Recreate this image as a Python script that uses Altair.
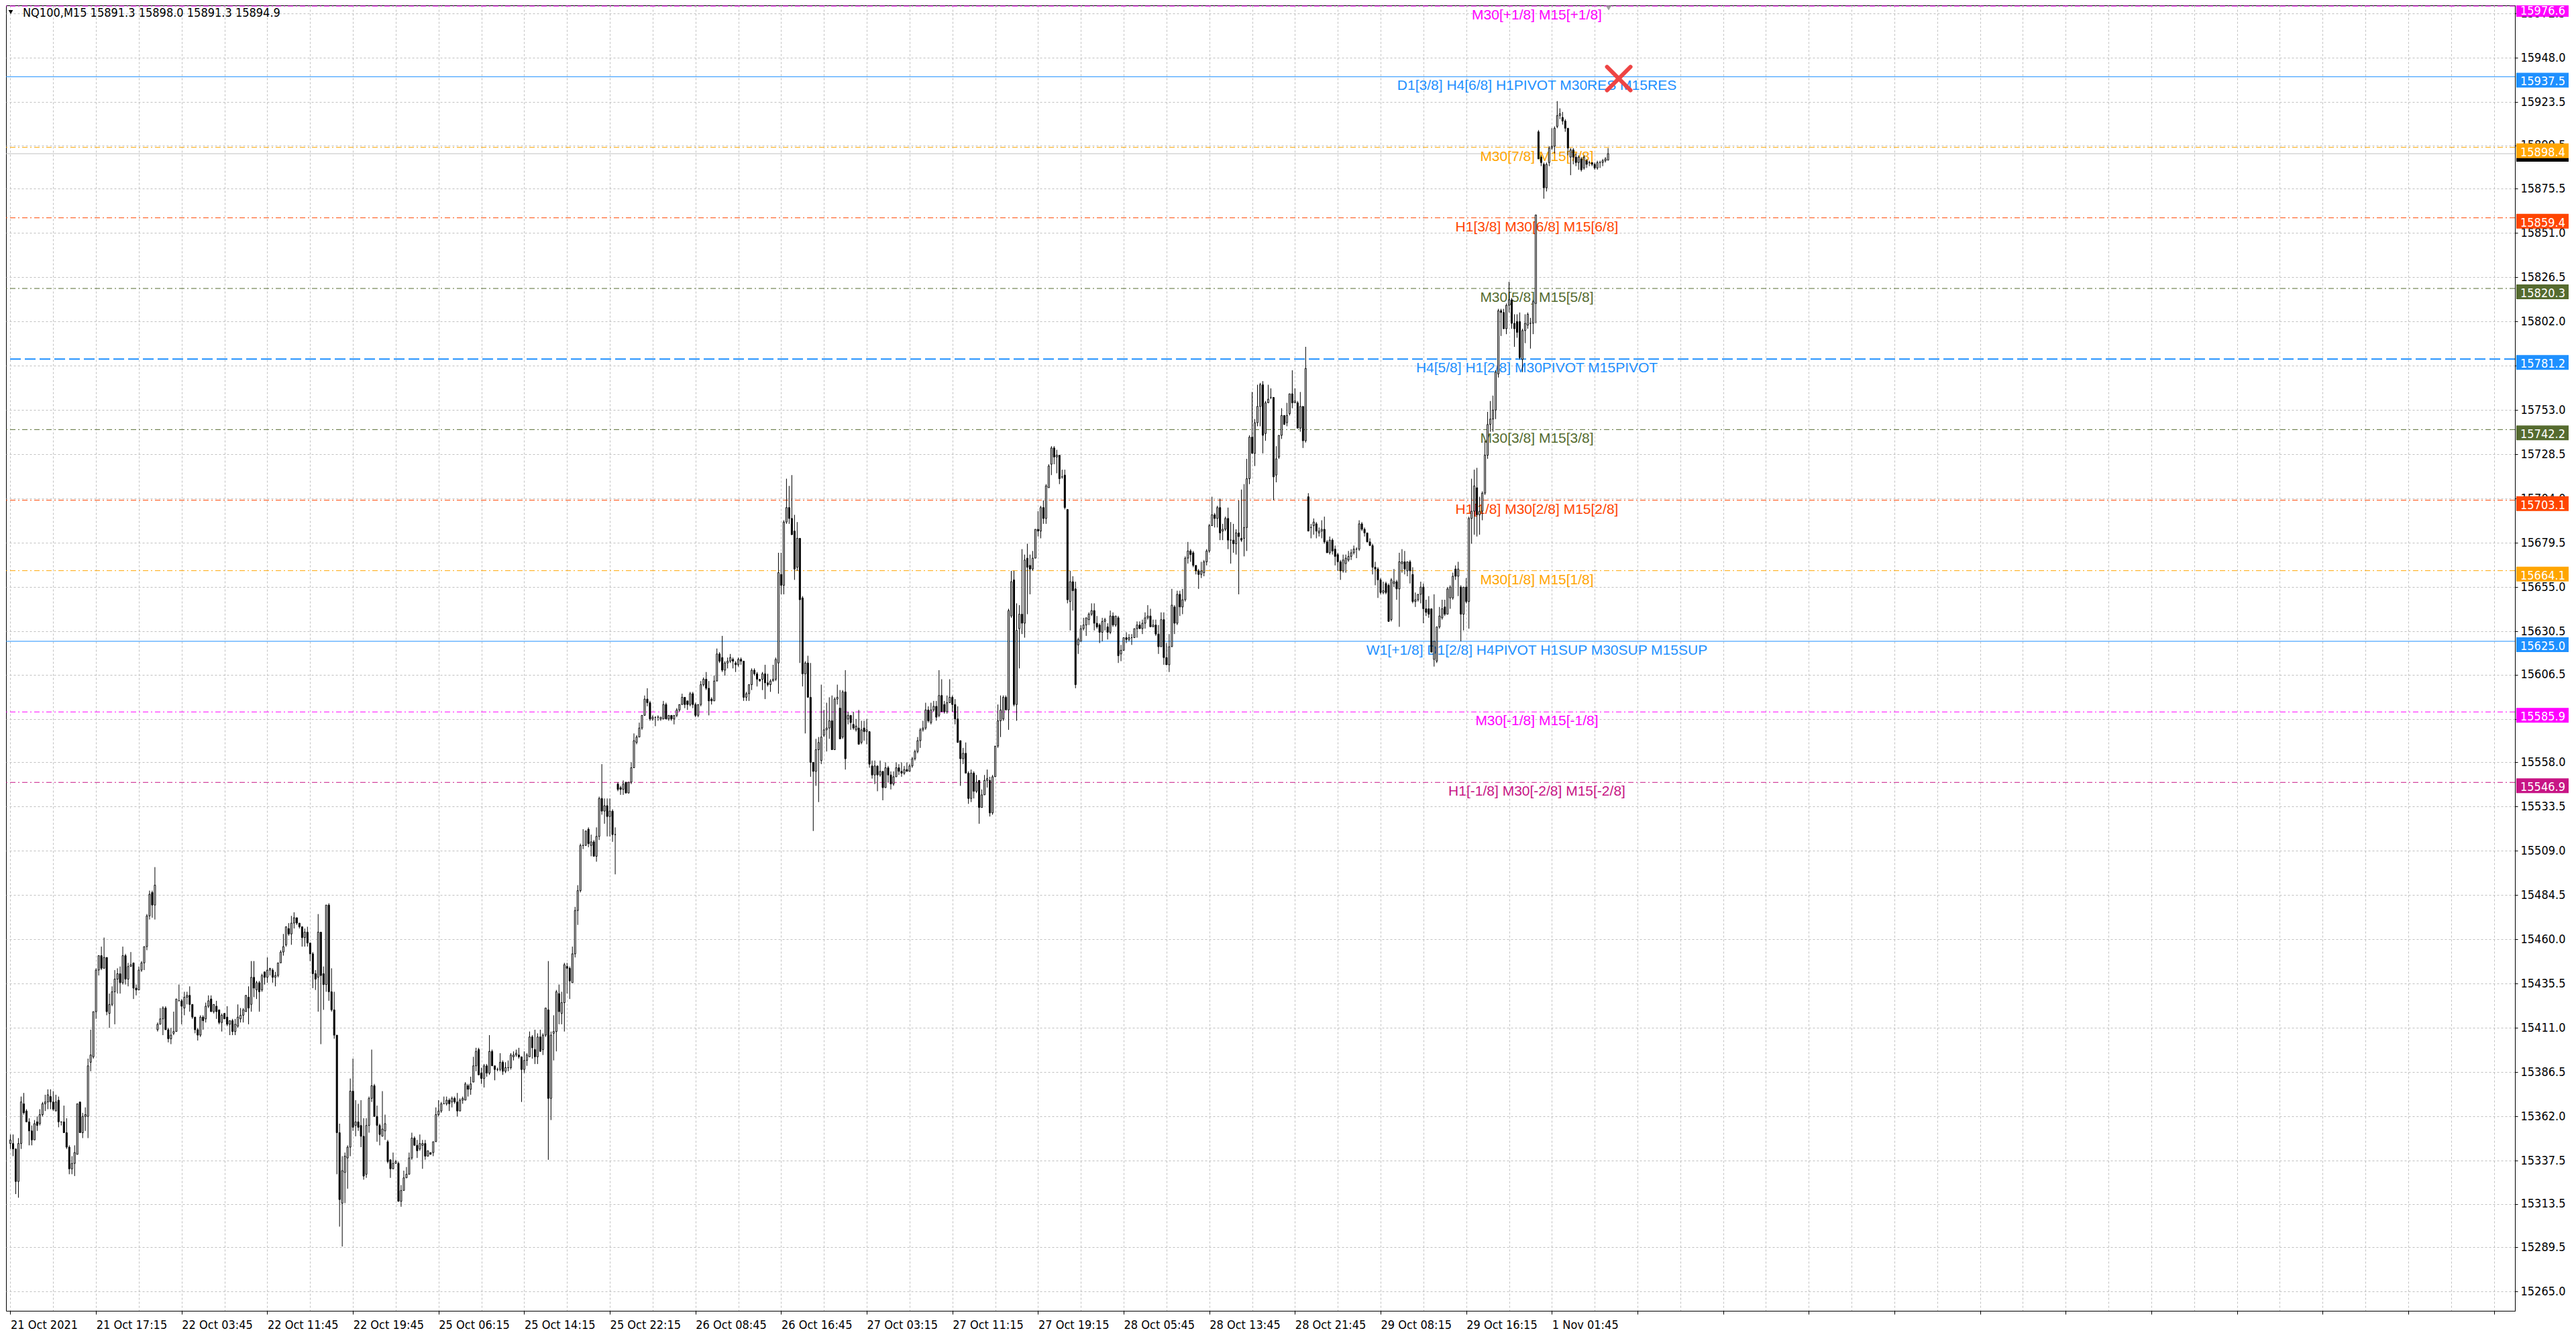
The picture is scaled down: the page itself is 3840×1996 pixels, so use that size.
import altair as alt
import pandas as pd

# ---- NQ100 M15 bars, oldest first ----
opens = [
    15347, 15347, 15344, 15326, 15347, 15369, 15365, 15359, 15354, 15349,
    15359, 15358, 15363, 15369, 15370, 15373, 15370, 15365, 15371, 15359,
    15359, 15353, 15345, 15333, 15336, 15341, 15370, 15353, 15362, 15362,
    15392, 15395, 15420, 15443, 15451, 15444, 15450, 15419, 15424, 15431,
    15438, 15441, 15436, 15451, 15438, 15445, 15447, 15433, 15432, 15443,
    15447, 15456, 15473, 15486, 15479, 15410, 15413, 15416, 15422, 15410,
    15405, 15408, 15409, 15426, 15426, 15422, 15428, 15429, 15424, 15417,
    15410, 15407, 15417, 15416, 15423, 15427, 15420, 15423, 15421, 15414,
    15419, 15417, 15413, 15415, 15409, 15412, 15416, 15418, 15420, 15428,
    15424, 15439, 15432, 15436, 15432, 15442, 15439, 15443, 15443, 15439,
    15440, 15447, 15453, 15457, 15466, 15463, 15469, 15472, 15469, 15467,
    15461, 15464, 15458, 15452, 15441, 15439, 15464, 15441, 15435, 15479,
    15431, 15421, 15407, 15353, 15314, 15331, 15339, 15345, 15376, 15357,
    15359, 15357, 15351, 15330, 15357, 15372, 15379, 15362, 15357, 15351,
    15354, 15348, 15338, 15333, 15336, 15336, 15315, 15321, 15328, 15330,
    15339, 15350, 15346, 15344, 15346, 15347, 15340, 15342, 15342, 15348,
    15363, 15365, 15369, 15369, 15371, 15370, 15372, 15370, 15365, 15371,
    15371, 15379, 15377, 15381, 15390, 15399, 15386, 15383, 15390, 15386,
    15398, 15390, 15388, 15388, 15392, 15387, 15389, 15389, 15395, 15396,
    15396, 15395, 15388, 15393, 15395, 15406, 15399, 15395, 15406, 15399,
    15407, 15421, 15372, 15408, 15409, 15430, 15419, 15425, 15445, 15444,
    15436, 15452, 15476, 15487, 15512, 15512, 15521, 15512, 15514, 15506,
    15517, 15538, 15531, 15534, 15528, 15531, 15518, 15546, 15544, 15543,
    15547, 15541, 15547, 15555, 15569, 15572, 15577, 15584, 15593, 15591,
    15582, 15583, 15583, 15582, 15582, 15590, 15582, 15584, 15582, 15584,
    15587, 15590, 15594, 15592, 15590, 15596, 15590, 15584, 15590, 15601,
    15604, 15599, 15593, 15592, 15603, 15618, 15616, 15609, 15613, 15614,
    15615, 15613, 15612, 15615, 15614, 15594, 15596, 15601, 15609, 15607,
    15604, 15604, 15607, 15602, 15601, 15603, 15604, 15613, 15662, 15656,
    15691, 15699, 15693, 15686, 15666, 15682, 15649, 15607, 15613, 15594,
    15558, 15553, 15565, 15559, 15573, 15576, 15577, 15581, 15565, 15593,
    15588, 15572, 15597, 15582, 15584, 15579, 15576, 15577, 15569, 15577,
    15575, 15575, 15556, 15551, 15556, 15551, 15553, 15544, 15555, 15551,
    15546, 15550, 15555, 15553, 15552, 15554, 15553, 15556, 15560, 15564,
    15570, 15576, 15577, 15587, 15580, 15587, 15589, 15584, 15595, 15590,
    15586, 15591, 15594, 15590, 15582, 15570, 15560, 15563, 15552, 15538,
    15552, 15542, 15548, 15533, 15540, 15548, 15548, 15530, 15550, 15567,
    15581, 15582, 15594, 15587, 15639, 15659, 15590, 15632, 15640, 15635,
    15671, 15667, 15665, 15671, 15687, 15686, 15699, 15693, 15710, 15723,
    15732, 15727, 15728, 15716, 15717, 15698, 15647, 15658, 15654, 15623,
    15625, 15632, 15634, 15637, 15640, 15642, 15635, 15634, 15630, 15636,
    15633, 15630, 15639, 15634, 15638, 15618, 15620, 15627, 15626, 15627,
    15627, 15632, 15634, 15632, 15635, 15638, 15639, 15633, 15634, 15629,
    15622, 15637, 15616, 15612, 15622, 15644, 15635, 15651, 15644, 15648,
    15671, 15675, 15674, 15667, 15664, 15662, 15663, 15669, 15675, 15689,
    15695, 15693, 15699, 15686, 15687, 15693, 15681, 15681, 15679, 15685,
    15682, 15682, 15688, 15715, 15738, 15729, 15746, 15755, 15767, 15740,
    15757, 15760, 15760, 15717, 15727, 15739, 15750, 15746, 15751, 15762,
    15757, 15757, 15743, 15755, 15736, 15705, 15688, 15689, 15690, 15685,
    15686, 15687, 15680, 15674, 15681, 15676, 15673, 15669, 15664, 15668,
    15670, 15672, 15674, 15676, 15676, 15690, 15687, 15685, 15680, 15678,
    15666, 15665, 15659, 15652, 15657, 15656, 15637, 15657, 15658, 15654,
    15668, 15669, 15664, 15669, 15662, 15647, 15648, 15651, 15655, 15643,
    15643, 15643, 15615, 15614, 15633, 15638, 15644, 15640, 15649, 15649,
    15665, 15661, 15655, 15640, 15655, 15647, 15693, 15697, 15710, 15695,
    15697, 15707, 15728, 15745, 15748, 15753, 15773, 15808, 15807, 15798,
    15811, 15814, 15801, 15802, 15802, 15781, 15797, 15800, 15801, 15801,
    15812, 15907, 15893, 15889, 15876, 15890, 15898, 15899, 15910, 15916,
    15915, 15913, 15909, 15893, 15897, 15893, 15890, 15892, 15887, 15891,
    15890, 15890, 15889, 15887, 15890, 15890, 15891, 15891.3,
]

highs = [
    15352, 15352, 15344, 15350, 15373, 15375, 15366, 15361, 15357, 15360,
    15362, 15366, 15370, 15374, 15377, 15377, 15376, 15374, 15373, 15359,
    15368, 15361, 15346, 15340, 15346, 15369, 15370, 15364, 15367, 15394,
    15410, 15420, 15444, 15451, 15456, 15461, 15450, 15430, 15434, 15443,
    15444, 15445, 15456, 15452, 15447, 15453, 15447, 15435, 15445, 15448,
    15456, 15474, 15487, 15487, 15500, 15414, 15422, 15423, 15423, 15411,
    15411, 15420, 15427, 15435, 15427, 15431, 15431, 15434, 15424, 15417,
    15411, 15418, 15418, 15425, 15429, 15429, 15424, 15426, 15421, 15419,
    15419, 15423, 15415, 15416, 15416, 15424, 15422, 15422, 15429, 15434,
    15448, 15448, 15437, 15437, 15441, 15442, 15450, 15444, 15444, 15442,
    15447, 15454, 15463, 15467, 15469, 15473, 15475, 15472, 15469, 15467,
    15466, 15467, 15458, 15453, 15443, 15474, 15464, 15445, 15479, 15480,
    15444, 15431, 15407, 15358, 15340, 15342, 15346, 15383, 15394, 15371,
    15369, 15371, 15361, 15361, 15373, 15399, 15380, 15368, 15358, 15376,
    15363, 15349, 15338, 15342, 15338, 15337, 15324, 15332, 15334, 15342,
    15353, 15351, 15349, 15352, 15349, 15349, 15343, 15342, 15348, 15367,
    15371, 15370, 15373, 15373, 15372, 15373, 15373, 15375, 15372, 15373,
    15381, 15380, 15384, 15395, 15400, 15400, 15389, 15391, 15391, 15407,
    15399, 15390, 15389, 15397, 15393, 15392, 15393, 15397, 15398, 15399,
    15400, 15395, 15398, 15397, 15409, 15407, 15410, 15408, 15410, 15408,
    15422, 15448, 15409, 15418, 15432, 15435, 15431, 15447, 15447, 15445,
    15456, 15478, 15490, 15513, 15521, 15520, 15522, 15518, 15515, 15522,
    15539, 15557, 15538, 15538, 15538, 15532, 15522, 15547, 15545, 15548,
    15547, 15547, 15558, 15574, 15573, 15580, 15584, 15595, 15599, 15592,
    15584, 15583, 15584, 15583, 15592, 15591, 15584, 15584, 15584, 15588,
    15590, 15596, 15594, 15592, 15597, 15597, 15591, 15590, 15603, 15605,
    15608, 15603, 15594, 15606, 15621, 15619, 15628, 15614, 15616, 15618,
    15616, 15614, 15616, 15616, 15614, 15597, 15601, 15610, 15610, 15608,
    15604, 15608, 15612, 15607, 15604, 15612, 15616, 15674, 15674, 15692,
    15715, 15711, 15717, 15695, 15691, 15682, 15650, 15614, 15617, 15613,
    15558, 15571, 15572, 15601, 15587, 15591, 15594, 15595, 15594, 15601,
    15598, 15598, 15609, 15586, 15584, 15586, 15582, 15587, 15581, 15581,
    15582, 15575, 15559, 15559, 15556, 15559, 15553, 15558, 15556, 15553,
    15553, 15558, 15557, 15558, 15556, 15558, 15557, 15561, 15565, 15572,
    15577, 15581, 15591, 15589, 15591, 15592, 15592, 15609, 15604, 15592,
    15595, 15604, 15595, 15593, 15589, 15570, 15566, 15569, 15553, 15554,
    15553, 15551, 15548, 15543, 15551, 15554, 15550, 15551, 15567, 15590,
    15595, 15595, 15595, 15643, 15664, 15664, 15646, 15645, 15676, 15673,
    15679, 15673, 15675, 15687, 15697, 15700, 15703, 15712, 15723, 15733,
    15733, 15731, 15728, 15720, 15720, 15698, 15664, 15661, 15658, 15627,
    15634, 15638, 15638, 15641, 15646, 15646, 15639, 15635, 15638, 15638,
    15635, 15642, 15641, 15639, 15639, 15623, 15627, 15630, 15629, 15629,
    15632, 15636, 15636, 15637, 15641, 15645, 15643, 15637, 15637, 15634,
    15641, 15641, 15624, 15629, 15654, 15645, 15653, 15653, 15654, 15672,
    15680, 15676, 15675, 15667, 15665, 15669, 15670, 15676, 15690, 15705,
    15696, 15700, 15704, 15690, 15694, 15699, 15691, 15690, 15687, 15703,
    15709, 15712, 15726, 15739, 15763, 15748, 15767, 15768, 15769, 15758,
    15767, 15765, 15760, 15733, 15739, 15754, 15750, 15757, 15762, 15775,
    15765, 15758, 15763, 15755, 15788, 15707, 15690, 15693, 15691, 15688,
    15692, 15694, 15681, 15683, 15682, 15678, 15674, 15670, 15673, 15673,
    15675, 15676, 15678, 15677, 15692, 15691, 15688, 15685, 15682, 15679,
    15669, 15666, 15660, 15658, 15658, 15657, 15660, 15665, 15659, 15674,
    15676, 15675, 15669, 15670, 15666, 15652, 15651, 15658, 15657, 15648,
    15650, 15643, 15651, 15633, 15644, 15648, 15648, 15655, 15656, 15663,
    15667, 15669, 15656, 15655, 15660, 15694, 15715, 15720, 15721, 15705,
    15708, 15736, 15752, 15758, 15761, 15775, 15809, 15809, 15809, 15812,
    15824, 15815, 15806, 15806, 15807, 15798, 15806, 15807, 15804, 15814,
    15861, 15908, 15894, 15890, 15890, 15899, 15909, 15910, 15924, 15920,
    15918, 15914, 15909, 15898, 15898, 15895, 15894, 15893, 15894, 15892,
    15891, 15890, 15890, 15891, 15891, 15892, 15893, 15898.0,
]

lows = [
    15344, 15340, 15319, 15317, 15344, 15363, 15359, 15346, 15346, 15349,
    15354, 15357, 15362, 15365, 15366, 15366, 15365, 15365, 15356, 15357,
    15353, 15344, 15330, 15330, 15329, 15341, 15353, 15350, 15354, 15350,
    15387, 15394, 15416, 15440, 15443, 15444, 15418, 15411, 15423, 15413,
    15430, 15430, 15435, 15435, 15434, 15445, 15427, 15429, 15432, 15442,
    15443, 15454, 15471, 15472, 15471, 15409, 15413, 15407, 15410, 15403,
    15402, 15407, 15409, 15426, 15413, 15418, 15424, 15420, 15416, 15408,
    15404, 15406, 15410, 15414, 15422, 15420, 15419, 15416, 15413, 15409,
    15416, 15412, 15407, 15407, 15407, 15411, 15414, 15414, 15420, 15413,
    15420, 15428, 15427, 15420, 15431, 15435, 15436, 15440, 15436, 15434,
    15439, 15447, 15451, 15456, 15462, 15457, 15466, 15468, 15466, 15456,
    15456, 15456, 15448, 15433, 15432, 15420, 15402, 15421, 15431, 15426,
    15420, 15405, 15330, 15301, 15290, 15314, 15322, 15340, 15354, 15351,
    15354, 15345, 15327, 15328, 15353, 15370, 15362, 15348, 15346, 15351,
    15349, 15336, 15328, 15333, 15336, 15315, 15312, 15321, 15328, 15330,
    15338, 15346, 15339, 15343, 15333, 15338, 15340, 15341, 15340, 15348,
    15362, 15364, 15369, 15368, 15365, 15367, 15369, 15362, 15365, 15369,
    15371, 15373, 15374, 15381, 15387, 15385, 15380, 15378, 15384, 15385,
    15390, 15382, 15387, 15387, 15385, 15386, 15387, 15388, 15393, 15395,
    15394, 15370, 15386, 15390, 15395, 15394, 15391, 15391, 15398, 15396,
    15406, 15338, 15360, 15393, 15398, 15413, 15413, 15409, 15430, 15427,
    15436, 15450, 15468, 15486, 15510, 15512, 15511, 15506, 15506, 15503,
    15515, 15529, 15524, 15517, 15517, 15514, 15496, 15542, 15540, 15540,
    15541, 15541, 15546, 15555, 15568, 15572, 15576, 15584, 15589, 15581,
    15581, 15578, 15581, 15581, 15582, 15582, 15581, 15581, 15579, 15583,
    15586, 15590, 15588, 15587, 15589, 15588, 15583, 15583, 15589, 15600,
    15598, 15584, 15590, 15592, 15603, 15613, 15608, 15606, 15610, 15613,
    15610, 15608, 15611, 15612, 15592, 15592, 15592, 15598, 15606, 15600,
    15603, 15598, 15593, 15600, 15597, 15603, 15603, 15596, 15651, 15651,
    15690, 15690, 15684, 15659, 15664, 15613, 15600, 15574, 15594, 15550,
    15520, 15545, 15536, 15557, 15572, 15564, 15571, 15565, 15565, 15590,
    15571, 15571, 15554, 15579, 15576, 15576, 15575, 15568, 15568, 15570,
    15568, 15555, 15549, 15546, 15542, 15550, 15537, 15544, 15547, 15543,
    15545, 15550, 15551, 15550, 15551, 15553, 15553, 15555, 15559, 15563,
    15566, 15575, 15576, 15580, 15579, 15586, 15581, 15583, 15586, 15585,
    15585, 15591, 15586, 15579, 15569, 15545, 15557, 15552, 15535, 15536,
    15538, 15541, 15524, 15533, 15540, 15544, 15528, 15529, 15550, 15566,
    15572, 15581, 15587, 15576, 15638, 15589, 15581, 15610, 15629, 15627,
    15640, 15651, 15664, 15671, 15683, 15682, 15690, 15690, 15710, 15717,
    15723, 15718, 15712, 15715, 15698, 15646, 15631, 15642, 15599, 15618,
    15625, 15631, 15628, 15634, 15639, 15631, 15632, 15624, 15625, 15631,
    15626, 15629, 15633, 15633, 15613, 15614, 15620, 15624, 15625, 15623,
    15627, 15627, 15632, 15629, 15632, 15637, 15633, 15633, 15628, 15618,
    15622, 15612, 15612, 15608, 15622, 15629, 15634, 15639, 15640, 15647,
    15668, 15669, 15666, 15662, 15654, 15660, 15661, 15667, 15674, 15689,
    15688, 15688, 15681, 15681, 15686, 15676, 15668, 15674, 15673, 15651,
    15680, 15672, 15675, 15712, 15729, 15722, 15744, 15744, 15729, 15736,
    15757, 15759, 15703, 15713, 15726, 15737, 15745, 15744, 15750, 15754,
    15757, 15743, 15741, 15732, 15735, 15686, 15682, 15684, 15682, 15683,
    15682, 15679, 15674, 15673, 15673, 15667, 15664, 15659, 15663, 15663,
    15669, 15670, 15673, 15671, 15675, 15686, 15683, 15680, 15678, 15662,
    15656, 15649, 15651, 15651, 15651, 15636, 15636, 15655, 15648, 15633,
    15663, 15662, 15661, 15657, 15646, 15644, 15647, 15646, 15635, 15639,
    15638, 15619, 15611, 15613, 15632, 15637, 15639, 15640, 15643, 15648,
    15659, 15650, 15625, 15631, 15646, 15632, 15679, 15684, 15683, 15684,
    15692, 15706, 15726, 15741, 15741, 15748, 15771, 15794, 15798, 15795,
    15807, 15798, 15788, 15793, 15781, 15774, 15790, 15798, 15787, 15795,
    15801, 15892, 15888, 15870, 15874, 15888, 15897, 15895, 15909, 15914,
    15911, 15907, 15894, 15883, 15889, 15888, 15886, 15885, 15886, 15887,
    15888, 15888, 15886, 15886, 15887, 15888, 15890, 15891.3,
]

closes = [
    15349, 15344, 15326, 15347, 15370, 15364, 15359, 15354, 15349, 15358,
    15357, 15363, 15369, 15370, 15374, 15370, 15366, 15370, 15359, 15359,
    15353, 15345, 15333, 15336, 15342, 15369, 15353, 15362, 15363, 15390,
    15396, 15420, 15443, 15451, 15444, 15450, 15420, 15424, 15431, 15438,
    15441, 15436, 15451, 15438, 15445, 15446, 15433, 15432, 15443, 15447,
    15456, 15473, 15485, 15479, 15490, 15413, 15416, 15422, 15410, 15405,
    15407, 15409, 15427, 15426, 15423, 15428, 15429, 15424, 15417, 15410,
    15407, 15417, 15415, 15423, 15426, 15420, 15424, 15420, 15414, 15418,
    15416, 15413, 15415, 15409, 15413, 15417, 15418, 15421, 15429, 15422,
    15439, 15433, 15436, 15431, 15440, 15439, 15443, 15444, 15439, 15440,
    15447, 15453, 15456, 15467, 15463, 15469, 15472, 15469, 15467, 15461,
    15464, 15458, 15452, 15441, 15438, 15464, 15440, 15435, 15479, 15431,
    15421, 15407, 15353, 15316, 15332, 15340, 15345, 15376, 15356, 15359,
    15356, 15351, 15329, 15357, 15372, 15379, 15362, 15357, 15352, 15355,
    15358, 15337, 15333, 15336, 15337, 15315, 15321, 15328, 15330, 15339,
    15350, 15346, 15343, 15347, 15347, 15340, 15343, 15341, 15348, 15363,
    15365, 15369, 15369, 15371, 15369, 15372, 15370, 15365, 15371, 15372,
    15380, 15377, 15380, 15390, 15398, 15385, 15383, 15390, 15386, 15398,
    15390, 15388, 15388, 15392, 15387, 15389, 15389, 15396, 15396, 15397,
    15395, 15388, 15393, 15396, 15406, 15400, 15395, 15406, 15398, 15407,
    15422, 15372, 15407, 15409, 15431, 15420, 15425, 15446, 15444, 15437,
    15452, 15476, 15487, 15512, 15512, 15520, 15513, 15514, 15506, 15517,
    15538, 15531, 15534, 15528, 15531, 15518, 15518, 15543, 15543, 15546,
    15541, 15547, 15555, 15570, 15572, 15577, 15584, 15593, 15591, 15582,
    15583, 15583, 15583, 15583, 15590, 15582, 15584, 15582, 15584, 15587,
    15590, 15594, 15590, 15590, 15596, 15590, 15584, 15590, 15601, 15604,
    15599, 15592, 15592, 15603, 15618, 15614, 15609, 15613, 15614, 15616,
    15614, 15612, 15615, 15614, 15594, 15596, 15601, 15609, 15607, 15604,
    15603, 15607, 15602, 15601, 15603, 15604, 15615, 15663, 15656, 15691,
    15699, 15693, 15684, 15665, 15682, 15648, 15607, 15613, 15594, 15558,
    15553, 15565, 15569, 15572, 15576, 15577, 15581, 15565, 15593, 15594,
    15571, 15597, 15560, 15584, 15580, 15577, 15578, 15568, 15576, 15575,
    15576, 15557, 15551, 15556, 15551, 15553, 15544, 15555, 15551, 15546,
    15550, 15555, 15553, 15552, 15554, 15553, 15556, 15560, 15564, 15570,
    15576, 15577, 15587, 15581, 15587, 15589, 15583, 15595, 15586, 15586,
    15591, 15594, 15590, 15582, 15569, 15560, 15563, 15552, 15538, 15552,
    15542, 15547, 15533, 15540, 15548, 15549, 15530, 15550, 15567, 15581,
    15587, 15594, 15587, 15642, 15658, 15590, 15631, 15640, 15635, 15670,
    15666, 15665, 15671, 15687, 15686, 15699, 15693, 15711, 15722, 15732,
    15727, 15728, 15715, 15716, 15699, 15648, 15658, 15653, 15601, 15626,
    15632, 15634, 15638, 15640, 15642, 15635, 15633, 15630, 15636, 15637,
    15630, 15639, 15634, 15639, 15617, 15620, 15627, 15626, 15627, 15627,
    15632, 15634, 15632, 15635, 15638, 15639, 15633, 15634, 15629, 15622,
    15637, 15616, 15612, 15622, 15645, 15635, 15651, 15644, 15648, 15671,
    15675, 15673, 15667, 15664, 15662, 15664, 15669, 15675, 15689, 15695,
    15693, 15699, 15685, 15687, 15693, 15681, 15681, 15679, 15685, 15683,
    15681, 15688, 15715, 15738, 15729, 15746, 15755, 15767, 15739, 15757,
    15759, 15760, 15716, 15726, 15739, 15750, 15745, 15750, 15762, 15757,
    15758, 15743, 15755, 15736, 15776, 15686, 15688, 15691, 15686, 15686,
    15687, 15680, 15674, 15681, 15675, 15672, 15669, 15664, 15670, 15671,
    15672, 15674, 15676, 15676, 15690, 15687, 15685, 15680, 15678, 15666,
    15665, 15659, 15652, 15653, 15652, 15636, 15659, 15658, 15654, 15669,
    15669, 15665, 15669, 15664, 15647, 15648, 15651, 15655, 15643, 15641,
    15640, 15619, 15625, 15633, 15639, 15643, 15640, 15654, 15655, 15661,
    15661, 15665, 15640, 15655, 15647, 15693, 15697, 15711, 15695, 15697,
    15707, 15728, 15745, 15748, 15753, 15774, 15808, 15807, 15798, 15811,
    15814, 15801, 15798, 15796, 15782, 15797, 15801, 15806, 15801, 15813,
    15861, 15892, 15890, 15876, 15889, 15898, 15899, 15909, 15916, 15917,
    15913, 15909, 15898, 15897, 15893, 15890, 15893, 15886, 15893, 15889,
    15890, 15889, 15887, 15890, 15890, 15891, 15892, 15894.9,
]

# time axis labels, one every 32 bars
time_labels = [
    "21 Oct 2021", "21 Oct 17:15", "22 Oct 03:45", "22 Oct 11:45", "22 Oct 19:45",
    "25 Oct 06:15", "25 Oct 14:15", "25 Oct 22:15", "26 Oct 08:45", "26 Oct 16:45",
    "27 Oct 03:15", "27 Oct 11:15", "27 Oct 19:15", "28 Oct 05:45", "28 Oct 13:45",
    "28 Oct 21:45", "29 Oct 08:15", "29 Oct 16:15", "1 Nov 01:45",
]

# Murrey-math style levels drawn on the chart
level_prices = [15976.6, 15937.5, 15898.4, 15859.4, 15820.3, 15781.2,
                15742.2, 15703.1, 15664.1, 15625.0, 15585.9, 15546.9]
level_names = [
    "M30[+1/8] M15[+1/8]",
    "D1[3/8] H4[6/8] H1PIVOT M30RES M15RES",
    "M30[7/8] M15[7/8]",
    "H1[3/8] M30[6/8] M15[6/8]",
    "M30[5/8] M15[5/8]",
    "H4[5/8] H1[2/8] M30PIVOT M15PIVOT",
    "M30[3/8] M15[3/8]",
    "H1[1/8] M30[2/8] M15[2/8]",
    "M30[1/8] M15[1/8]",
    "W1[+1/8] D1[2/8] H4PIVOT H1SUP M30SUP M15SUP",
    "M30[-1/8] M15[-1/8]",
    "H1[-1/8] M30[-2/8] M15[-2/8]",
]

# price axis tick values
price_ticks = [15972.5, 15948.0, 15923.5, 15899.5, 15875.5, 15851.0, 15826.5,
               15802.0, 15777.5, 15753.0, 15728.5, 15704.0, 15679.5, 15655.0,
               15630.5, 15606.5, 15582.0, 15558.0, 15533.5, 15509.0, 15484.5,
               15460.0, 15435.5, 15411.0, 15386.5, 15362.0, 15337.5, 15313.5,
               15289.5, 15265.0]

# red cross marker
marker_bar = [601]
marker_price = [15936.5]

# ---- styling ----
level_colors = ["#FF00FF", "#1E90FF", "#FFA500", "#FF4500", "#556B2F", "#1E90FF",
                "#556B2F", "#FF4500", "#FFA500", "#1E90FF", "#FF00FF", "#C71585"]
level_kinds = ["dashdot", "solid", "dashdot", "dashdot", "dashdot", "dash",
               "dashdot", "dashdot", "dashdot", "solid", "dashdot", "dashdot"]
DASHES = {"solid": None, "dash": [16, 6], "dashdot": [8, 4, 2, 4]}
WIDTHS = {"solid": 1, "dash": 2, "dashdot": 1}

W, H = 3740, 1946
X_DOMAIN = [-0.375, 934.625]
Y_DOMAIN = [15254.4, 15977.0]
PX = H / (Y_DOMAIN[1] - Y_DOMAIN[0])  # pixels per point
AXIS_FONT = "DejaVu Sans Condensed, DejaVu Sans"
LEVEL_FONT = "Liberation Sans"

xscale = alt.Scale(domain=X_DOMAIN, nice=False, zero=False)
yscale = alt.Scale(domain=Y_DOMAIN, nice=False, zero=False)

bars = pd.DataFrame({"bar": range(len(closes)), "open": opens, "high": highs,
                     "low": lows, "close": closes})
bars["high"] = bars[["open", "high", "close"]].max(axis=1)
bars["low"] = bars[["open", "low", "close"]].min(axis=1)

labels_js = "[" + ",".join("'" + t + "'" for t in time_labels) + "]"
label_expr = ("datum.value % 32 === 0 && datum.value / 32 < " + str(len(time_labels))
              + " ? " + labels_js + "[datum.value / 32] : ''")

x_axis = alt.Axis(
    values=list(range(0, 929, 16)), grid=True, gridDash=[3, 3], gridColor="#c0c0c0",
    labelExpr=label_expr, labelAlign="left", labelFont=AXIS_FONT, labelFontSize=18,
    labelColor="black", labelPadding=7, labelOverlap=False, labelFlush=False,
    tickSize=5, tickColor="black",
    tickOpacity={"condition": {"test": "datum.value % 32 === 0", "value": 1}, "value": 0},
    domainColor="black", title=None,
)
y_axis = alt.Axis(
    orient="right", values=price_ticks, format=".1f", grid=True, gridDash=[3, 3],
    gridColor="#c0c0c0", labelFont=AXIS_FONT, labelFontSize=18, labelColor="black",
    labelPadding=4, labelOverlap=False, labelFlush=False, tickSize=4,
    tickColor="black", domainColor="black", title=None,
)


def xq(field):
    return alt.X(field, scale=xscale, axis=x_axis, title=None)


def yq(field):
    return alt.Y(field, scale=yscale, axis=y_axis, title=None)


# candles
wicks = alt.Chart(bars).mark_rule(color="black", strokeWidth=1).encode(
    x=xq("bar:Q"), y=yq("low:Q"), y2="high:Q",
)
bodies = alt.Chart(bars).mark_bar(size=2, stroke="black", strokeWidth=1).encode(
    x=xq("bar:Q"), y=yq("open:Q"), y2="close:Q",
    fill=alt.condition("datum.close >= datum.open", alt.value("white"), alt.value("black")),
)

# levels
levels = pd.DataFrame({"price": level_prices, "name": level_names,
                       "color": level_colors, "kind": level_kinds})
levels["top"] = (levels["price"] + 6 / PX).clip(upper=Y_DOMAIN[1])
levels["bottom"] = levels["price"] - 16 / PX
levels["tag"] = levels["price"].map(lambda p: "{:.1f}".format(p))

line_layers = []
for kind in ["dashdot", "dash", "solid"]:
    kw = {"strokeWidth": WIDTHS[kind]}
    if DASHES[kind]:
        kw["strokeDash"] = DASHES[kind]
    line_layers.append(
        alt.Chart(levels[levels["kind"] == kind]).mark_rule(**kw).encode(
            y=yq("price:Q"),
            color=alt.Color("color:N", scale=None),
        )
    )

level_text = alt.Chart(levels).mark_text(
    font=LEVEL_FONT, fontSize=21, align="center", baseline="alphabetic", dy=20
).encode(
    x=alt.value(2282),
    y=yq("price:Q"),
    text="name:N",
    color=alt.Color("color:N", scale=None),
)

# current bid
bid = closes[-1]
bid_df = pd.DataFrame({"price": [bid], "top": [bid + 6 / PX], "bottom": [bid - 12 / PX]})
bid_line = alt.Chart(bid_df).mark_rule(color="#c0c0c0", strokeWidth=1).encode(
    y=yq("price:Q")
)
bid_box = alt.Chart(bid_df).mark_rect(color="black").encode(
    x=alt.value(W + 2), x2=alt.value(W + 80),
    y=yq("top:Q"), y2="bottom:Q",
)

boxes = alt.Chart(levels).mark_rect().encode(
    x=alt.value(W + 2), x2=alt.value(W + 80),
    y=yq("top:Q"), y2="bottom:Q",
    color=alt.Color("color:N", scale=None),
)
box_text = alt.Chart(levels).mark_text(
    font=AXIS_FONT, fontSize=18, align="left", baseline="alphabetic", dy=13, color="white"
).encode(
    x=alt.value(W + 8),
    y=yq("price:Q"),
    text="tag:N",
)

marker = alt.Chart(pd.DataFrame({"bar": marker_bar, "price": marker_price})).mark_point(
    shape="M-1,-1L1,1M1,-1L-1,1", size=1225, filled=False, color="#ee4444",
    strokeWidth=6, strokeCap="round", opacity=1,
).encode(x=xq("bar:Q"), y=yq("price:Q"))

header_str = "NQ100,M15  " + " ".join("{:.1f}".format(v) for v in
                                      (opens[-1], highs[-1], lows[-1], closes[-1]))
one = pd.DataFrame({"t": [header_str]})
shift_mark = alt.Chart(one).mark_point(
    shape="triangle-down", filled=True, size=70, color="#a0a0a0", opacity=1
).encode(x=alt.value(2389), y=alt.value(4))
header_tri = alt.Chart(one).mark_point(
    shape="triangle-down", filled=True, size=45, color="black", opacity=1
).encode(x=alt.value(7), y=alt.value(10))
header = alt.Chart(one).mark_text(
    font=AXIS_FONT, fontSize=18, align="left", baseline="alphabetic", color="black"
).encode(x=alt.value(25), y=alt.value(17), text="t:N")

chart = alt.layer(
    *line_layers, bid_line, level_text, wicks, bodies, bid_box, boxes, box_text,
    marker, shift_mark, header_tri, header,
).properties(
    width=W, height=H, padding=0, background="white"
).configure_view(stroke="black", strokeWidth=1)

chart.save("out.html", embed_options={"renderer": "svg", "actions": False})
